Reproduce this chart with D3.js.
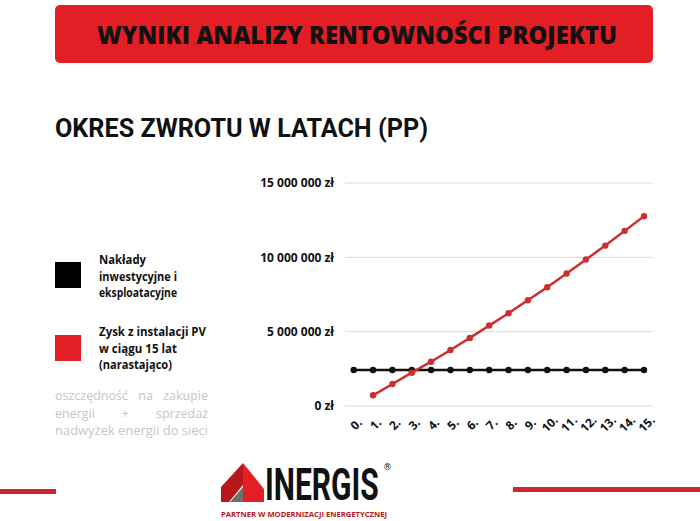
<!DOCTYPE html>
<html><head><meta charset="utf-8">
<script src="https://cdn.jsdelivr.net/npm/d3@7"></script>
<style>
html,body{margin:0;padding:0;background:#fff;}
svg{display:block;}
</style></head>
<body>
<svg id="c" width="700" height="521"></svg>
<script>
const years = ["0.","1.","2.","3.","4.","5.","6.","7.","8.","9.","10.","11.","12.","13.","14.","15."];
const costValues = [2.42,2.42,2.42,2.42,2.42,2.42,2.42,2.42,2.42,2.42,2.42,2.42,2.42,2.42,2.42,2.42].map(v=>v*1e6);
const profitValues = [null,0.72,1.48,2.24,2.98,3.77,4.58,5.41,6.24,7.11,7.99,8.91,9.85,10.79,11.78,12.76].map(v=>v==null?null:v*1e6);
const yTicks = [0, 5e6, 10e6, 15e6];
const yTickLabels = ["0 zł","5 000 000 zł","10 000 000 zł","15 000 000 zł"];
const legendCost = ["Nakłady","inwestycyjne i","eksploatacyjne"];
const legendCostWidths = [47,78,78];
const legendProfit = ["Zysk z instalacji PV","w ciągu 15 lat","(narastająco)"];
const legendProfitWidths = [107,78,73];
const noteLines = [["oszczędność","na","zakupie"],["energii","+","sprzedaż"],["nadwyżek energii do sieci"]];
const headerTitle = "WYNIKI ANALIZY RENTOWNOŚCI PROJEKTU";
const chartTitle = "OKRES ZWROTU W LATACH (PP)";

const RED = "#e31e24", LINE_RED = "#cc2f2f";
const svg = d3.select("#c");

// header
svg.append("rect").attr("x",55).attr("y",5).attr("width",598).attr("height",58).attr("rx",5).attr("fill",RED);
svg.append("text").attr("x",357).attr("y",44).attr("text-anchor","middle")
  .attr("font-family","Open Sans").attr("font-weight",800).attr("font-size",25)
  .attr("textLength",520).attr("lengthAdjust","spacingAndGlyphs").attr("fill","#111").text(headerTitle);

// title
svg.append("text").attr("x",55).attr("y",137)
  .attr("font-family","Roboto").attr("font-weight",700).attr("font-size",25)
  .attr("textLength",373).attr("lengthAdjust","spacingAndGlyphs").attr("fill","#111").text(chartTitle);

// scales
const x = d3.scalePoint().domain(years).range([353.7,644]);
const y = d3.scaleLinear().domain([0,15e6]).range([406,183]);

// grid
svg.append("g").selectAll("line").data(yTicks).join("line")
  .attr("x1",345).attr("x2",653).attr("y1",d=>y(d)).attr("y2",d=>y(d))
  .attr("stroke","#d9d9d9").attr("stroke-width",1);

// y labels
const yAxis = d3.axisLeft(y).tickValues(yTicks).tickSize(0).tickPadding(0)
  .tickFormat((d,i)=>yTickLabels[i]);
const gy = svg.append("g").attr("transform","translate(334,0)").call(yAxis);
gy.select(".domain").remove();
gy.selectAll("text").attr("font-family","Open Sans").attr("font-weight",700).attr("font-size",12).attr("fill","#111");

// x labels
const xAxis = d3.axisBottom(x).tickSize(0).tickPadding(0);
const gx = svg.append("g").attr("transform","translate(0,406)").call(xAxis);
gx.select(".domain").remove();
gx.selectAll("text").attr("font-family","Open Sans").attr("font-weight",700).attr("font-size",12).attr("fill","#111")
  .attr("text-anchor","middle").attr("dy",null).attr("y",0)
  .attr("transform","translate(5,21) rotate(-45)");

// lines
const line = d3.line().defined(d=>d.v!=null).x(d=>x(d.k)).y(d=>y(d.v));
const costData = years.map((k,i)=>({k,v:costValues[i]}));
const profitData = years.map((k,i)=>({k,v:profitValues[i]}));
svg.append("path").datum(costData).attr("d",line).attr("fill","none").attr("stroke","#111").attr("stroke-width",2.5);
svg.append("g").selectAll("circle").data(costData).join("circle")
  .attr("cx",d=>x(d.k)).attr("cy",d=>y(d.v)).attr("r",3.2).attr("fill","#111");
svg.append("path").datum(profitData).attr("d",line).attr("fill","none").attr("stroke",LINE_RED).attr("stroke-width",2.5);
svg.append("g").selectAll("circle").data(profitData.filter(d=>d.v!=null)).join("circle")
  .attr("cx",d=>x(d.k)).attr("cy",d=>y(d.v)).attr("r",3.2).attr("fill",LINE_RED);

// legend
svg.append("rect").attr("x",55).attr("y",262).attr("width",26).attr("height",26).attr("fill","#000");
svg.append("rect").attr("x",55).attr("y",335).attr("width",26).attr("height",26).attr("fill",RED);
const lt = (lines, widths, y0) => {
  svg.append("g").selectAll("text").data(lines).join("text")
    .attr("x",99).attr("y",(d,i)=>y0+i*16.5)
    .attr("font-family","Open Sans").attr("font-weight",700).attr("font-size",13).attr("fill","#111")
    .attr("textLength",(d,i)=>widths[i]).attr("lengthAdjust","spacingAndGlyphs").text(d=>d);
};
lt(legendCost, legendCostWidths, 264);
lt(legendProfit, legendProfitWidths, 336);

// note (justified)
const noteX0 = 55, noteX1 = 208;
noteLines.forEach((words,i)=>{
  const yy = 400 + i*17.5;
  if(words.length===1){
    svg.append("text").attr("x",noteX0).attr("y",yy).attr("font-family","Open Sans").attr("font-size",12.5)
      .attr("fill","#c6c6c6").attr("textLength",noteX1-noteX0).attr("lengthAdjust","spacingAndGlyphs").text(words[0]);
    return;
  }
  const nodes = words.map(w=>svg.append("text").attr("y",yy).attr("font-family","Open Sans").attr("font-size",12.5).attr("fill","#c6c6c6").text(w));
  const widths = nodes.map(n=>n.node().getComputedTextLength());
  const total = d3.sum(widths);
  const gap = (noteX1-noteX0-total)/(words.length-1);
  let cx = noteX0;
  nodes.forEach((n,j)=>{ n.attr("x",cx); cx += widths[j]+gap; });
});

// footer lines
svg.append("rect").attr("x",0).attr("y",489).attr("width",56).attr("height",5).attr("fill","#d3242b");
svg.append("rect").attr("x",513).attr("y",487).attr("width",187).attr("height",5).attr("fill","#d3242b");

// logo
const P = pts => pts.map(p=>p.join(",")).join(" ");
svg.append("polygon").attr("points",P([[243,463],[221,487],[221,502],[229,502],[243,485]])).attr("fill","#b8161b");
svg.append("polygon").attr("points",P([[243,463],[264,489],[264,502],[243,502]])).attr("fill","#e31e24");
svg.append("polygon").attr("points",P([[230,502],[243,487],[243,502]])).attr("fill","#6d6e70");
svg.append("text").attr("transform","translate(265,500) scale(1,1.45)")
  .attr("font-family","Liberation Sans Narrow, Roboto").attr("font-weight",700).attr("font-size",30)
  .attr("fill","#111").text("INERGIS");
svg.append("text").attr("x",383).attr("y",470).attr("font-family","DejaVu Sans").attr("font-size",9).attr("fill","#111").text("®");
svg.append("text").attr("x",221).attr("y",517)
  .attr("font-family","Open Sans").attr("font-weight",700).attr("font-size",6.5)
  .attr("textLength",166).attr("lengthAdjust","spacingAndGlyphs").attr("fill","#b8161b").text("PARTNER W MODERNIZACJI ENERGETYCZNEJ");
</script>
</body></html>
